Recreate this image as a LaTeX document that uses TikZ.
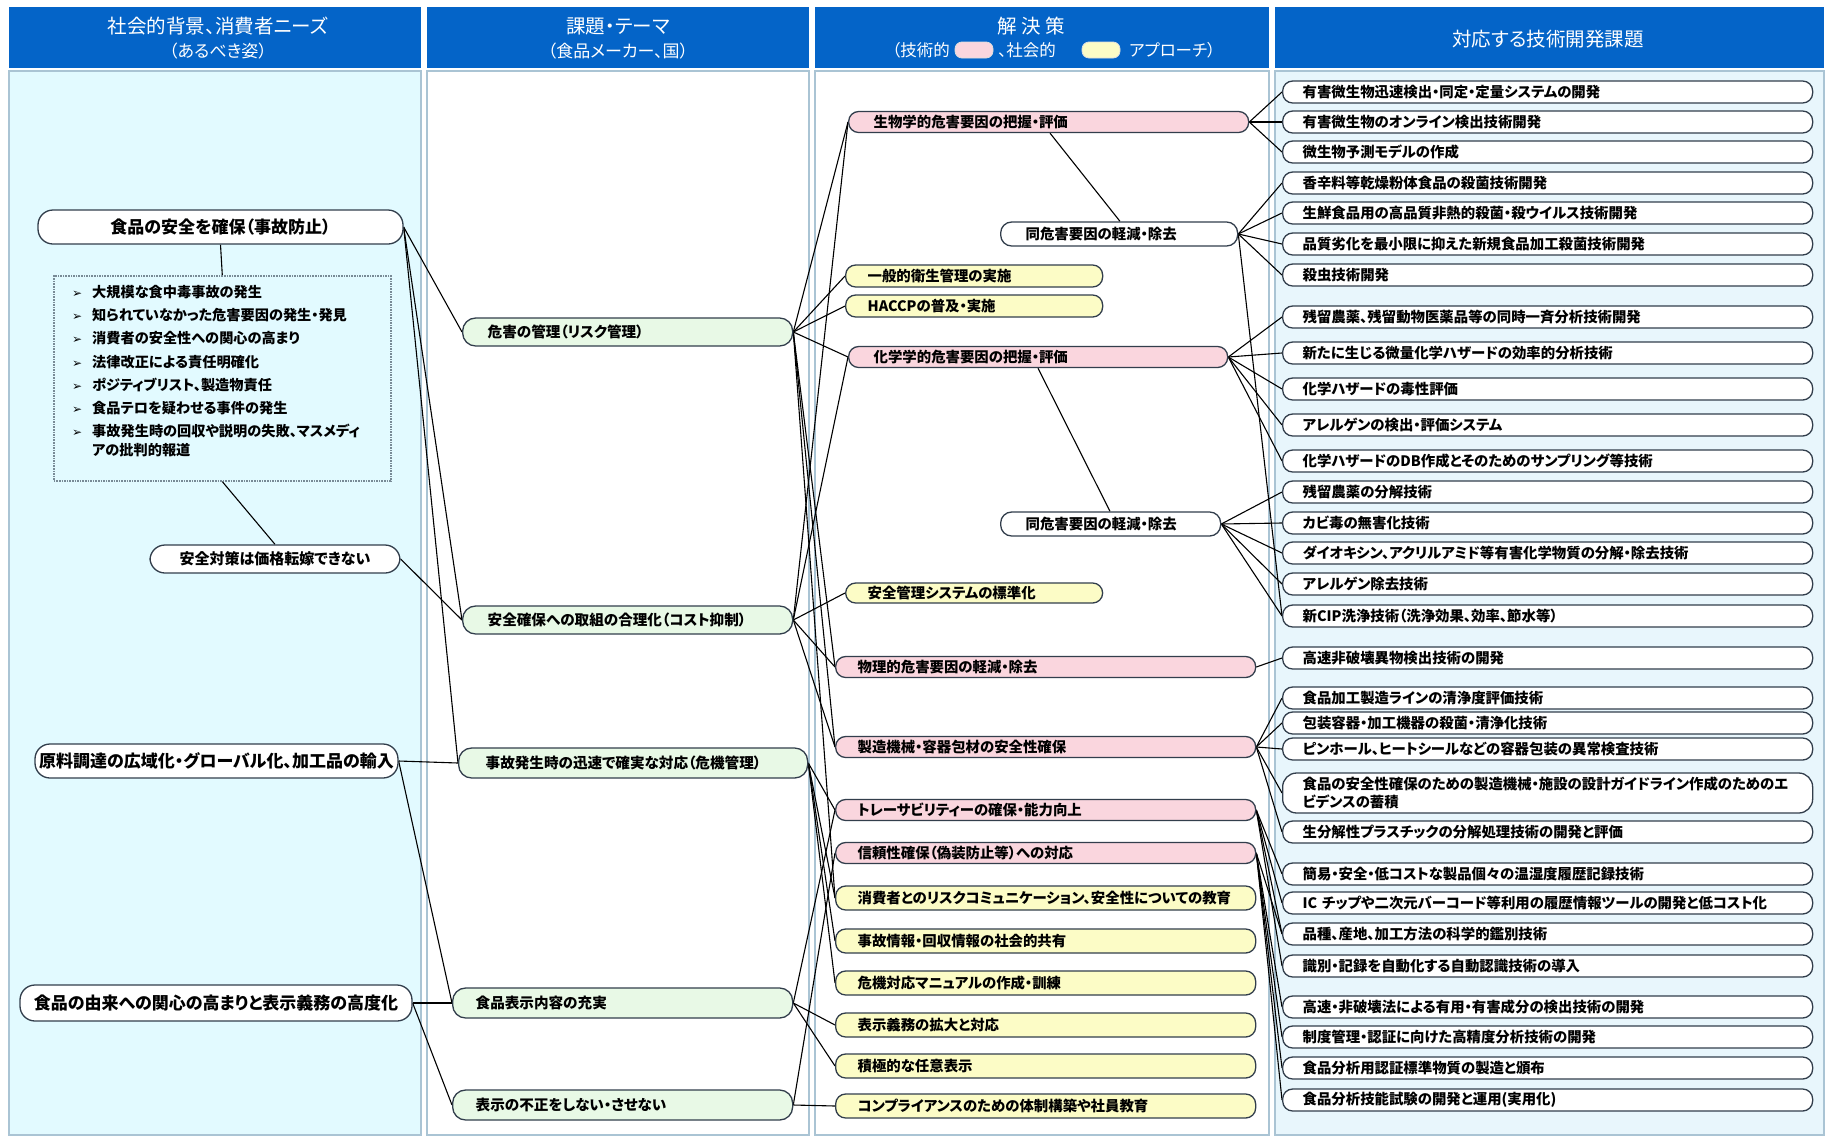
\documentclass[tikz,border=0pt]{standalone}
\usepackage{fontspec}
\setmainfont{Noto Sans CJK JP}[RawFeature={+palt}]
\newfontfamily\dvfont{DejaVu Sans}
\usetikzlibrary{calc}
\pgfdeclarelayer{bg}
\pgfsetlayers{bg,main}

\definecolor{hdr}{RGB}{4,100,200}
\definecolor{cyanbg}{RGB}{226,250,255}
\definecolor{cfourbg}{RGB}{232,246,252}
\definecolor{colrule}{RGB}{170,196,212}
\definecolor{edge}{RGB}{50,62,76}
\definecolor{dotgray}{RGB}{120,138,150}
\definecolor{pk}{RGB}{250,214,222}
\definecolor{yl}{RGB}{252,252,198}
\definecolor{gr}{RGB}{232,249,230}

\tikzset{
  conn/.style={line width=1.1pt, black},
  basebox/.style={draw=edge, line width=1.3pt, inner ysep=1pt, anchor=west, align=left,
    font=\fontsize{14.4}{17}\selectfont\bfseries},
  itembox/.style={basebox, fill=white, rounded corners=10pt, minimum height=22pt,
    inner xsep=20pt, text width=490pt},
  pkbox/.style={basebox, fill=pk, rounded corners=10pt, minimum height=21pt},
  ylbox/.style={basebox, fill=yl, rounded corners=10pt, minimum height=22pt},
  wtbox/.style={basebox, fill=white, rounded corners=11pt, minimum height=24pt},
  grbox/.style={basebox, fill=gr, rounded corners=13pt, minimum height=28pt,
    font=\fontsize{14.6}{17}\selectfont\bfseries},
  sbox/.style={draw=edge, line width=1.3pt, fill=white, rounded corners=15pt, align=center,
    font=\fontsize{17}{20}\selectfont\bfseries},
  tw/.style 2 args={inner xsep=#1pt, text width=#2pt},
  hdrtxt/.style={text=white, font=\fontsize{19.5}{22}\selectfont, inner sep=0pt},
  hdrtwo/.style={text=white, font=\fontsize{17}{20}\selectfont, inner sep=0pt},
  hdrsub/.style={text=white, font=\fontsize{16.5}{19}\selectfont, inner sep=0pt},
  pill/.style={draw=white!75!gray, line width=0.8pt, rounded corners=7pt,
    minimum width=38pt, minimum height=16pt, inner sep=0pt},
}

\begin{document}
\begin{tikzpicture}[x=1pt,y=-1pt]
\useasboundingbox (0,0) rectangle (1831,1138);

% ---------- header band ----------
\fill[hdr] (9,7) rectangle (421,68);
\fill[hdr] (427,7) rectangle (809,68);
\fill[hdr] (815,7) rectangle (1269,68);
\fill[hdr] (1275,7) rectangle (1824,68);

\node[hdrtxt] (h1a) at (218,26) {社会的背景、消費者ニーズ};
\node[hdrtwo] (h1b) at (218,51) {（あるべき姿）};
\node[hdrtxt] (h2a) at (618,26) {課題・テーマ};
\node[hdrtwo] (h2b) at (618,51) {（食品メーカー、国）};
\node[hdrtxt] (h3a) at (1031,26) {解 決 策};
\node[hdrsub, anchor=east] (h3b) at (950,50) {（技術的};
\node[pill, fill=pk] (h3pk) at (974,50) {};
\node[hdrsub, anchor=west] (h3c) at (998,50) {、社会的};
\node[pill, fill=yl] (h3yl) at (1101,50) {};
\node[hdrsub, anchor=west] (h3d) at (1129,50) {アプローチ）};
\node[hdrtxt] (h4a) at (1548,39) {対応する技術開発課題};

% ---------- column 1: background and needs ----------
\node[sbox, minimum width=365pt, minimum height=34pt] (sA) at (220.5,227) {食品の安全を確保（事故防止）};
\node[draw=dotgray, densely dotted, line width=1.6pt, fill=cyanbg, minimum width=337pt,
  minimum height=205pt, anchor=north west, inner sep=0pt] (lst) at (53,275) {};
\node[anchor=north west, inner sep=0pt, align=left, font=\fontsize{14.2}{23.2}\selectfont\bfseries] (lsttxt) at (72,285) {%
  \makebox[20pt][l]{\dvfont\fontsize{12}{12}\selectfont ➢}大規模な食中毒事故の発生\\
  \makebox[20pt][l]{\dvfont\fontsize{12}{12}\selectfont ➢}知られていなかった危害要因の発生・発見\\
  \makebox[20pt][l]{\dvfont\fontsize{12}{12}\selectfont ➢}消費者の安全性への関心の高まり\\
  \makebox[20pt][l]{\dvfont\fontsize{12}{12}\selectfont ➢}法律改正による責任明確化\\
  \makebox[20pt][l]{\dvfont\fontsize{12}{12}\selectfont ➢}ポジティブリスト、製造物責任\\
  \makebox[20pt][l]{\dvfont\fontsize{12}{12}\selectfont ➢}食品テロを疑わせる事件の発生\\
  \makebox[20pt][l]{\dvfont\fontsize{12}{12}\selectfont ➢}事故発生時の回収や説明の失敗、マスメディ\\[-4pt]
  \makebox[20pt][l]{}アの批判的報道};
\node[sbox, minimum width=250pt, minimum height=28pt, font=\fontsize{15}{18}\selectfont\bfseries] (sB) at (275,559) {安全対策は価格転嫁できない};
\node[sbox, minimum width=363pt, minimum height=34pt] (sC) at (216.5,761) {原料調達の広域化・グローバル化、加工品の輸入};
\node[sbox, minimum width=392pt, minimum height=36pt] (sD) at (216,1003) {食品の由来への関心の高まりと表示義務の高度化};

% ---------- column 2: themes ----------
\node[grbox, tw={25}{280}] (tA) at (462,332) {危害の管理（リスク管理）};
\node[grbox, tw={25}{280}] (tB) at (462,620) {安全確保への取組の合理化（コスト抑制）};
\node[grbox, tw={27}{295}, minimum height=30pt] (tC) at (458,763) {事故発生時の迅速で確実な対応（危機管理）};
\node[grbox, tw={23}{294}, minimum height=30pt] (tD) at (452,1003) {食品表示内容の充実};
\node[grbox, tw={23}{294}, minimum height=30pt] (tE) at (452,1105) {表示の不正をしない・させない};

% ---------- column 3: solutions ----------
\node[pkbox, tw={25}{350}] (bio) at (848,122) {生物学的危害要因の把握・評価};
\node[wtbox, tw={25}{187}] (bio2) at (1000,234) {同危害要因の軽減・除去};
\node[ylbox, tw={22}{213}] (gen) at (845,276) {一般的衛生管理の実施};
\node[ylbox, tw={22}{213}] (hac) at (845,306) {HACCPの普及・実施};
\node[pkbox, tw={25}{329}] (chem) at (848,357) {化学学的危害要因の把握・評価};
\node[wtbox, tw={25}{170}] (chem2) at (1000,524) {同危害要因の軽減・除去};
\node[ylbox, tw={22}{213}, minimum height=20pt] (sms) at (845,593) {安全管理システムの標準化};
\node[pkbox, tw={22}{376}] (phy) at (835,667) {物理的危害要因の軽減・除去};
\node[pkbox, tw={22}{376}] (mfg) at (835,747) {製造機械・容器包材の安全性確保};
\node[pkbox, tw={22}{376}] (trc) at (835,810) {トレーサビリティーの確保・能力向上};
\node[pkbox, tw={22}{376}] (rel) at (835,853) {信頼性確保（偽装防止等）への対応};
\node[ylbox, tw={22}{376}, minimum height=24pt] (rc) at (835,898) {消費者とのリスクコミュニケーション、安全性についての教育};
\node[ylbox, tw={22}{376}, minimum height=24pt] (inf) at (835,941) {事故情報・回収情報の社会的共有};
\node[ylbox, tw={22}{376}, minimum height=24pt] (man) at (835,983) {危機対応マニュアルの作成・訓練};
\node[ylbox, tw={22}{376}, minimum height=24pt] (lab) at (835,1025) {表示義務の拡大と対応};
\node[ylbox, tw={22}{376}, minimum height=24pt] (vol) at (835,1066) {積極的な任意表示};
\node[ylbox, tw={22}{376}, minimum height=24pt] (cmp) at (835,1106) {コンプライアンスのための体制構築や社員教育};

% ---------- column 4: technology development topics ----------
\node[itembox] (d1) at (1282,92) {有害微生物迅速検出・同定・定量システムの開発};
\node[itembox] (d2) at (1282,122) {有害微生物のオンライン検出技術開発};
\node[itembox] (d3) at (1282,152) {微生物予測モデルの作成};
\node[itembox] (d4) at (1282,183) {香辛料等乾燥粉体食品の殺菌技術開発};
\node[itembox] (d5) at (1282,213) {生鮮食品用の高品質非熱的殺菌・殺ウイルス技術開発};
\node[itembox] (d6) at (1282,244) {品質劣化を最小限に抑えた新規食品加工殺菌技術開発};
\node[itembox] (d7) at (1282,275) {殺虫技術開発};
\node[itembox] (d8) at (1282,317) {残留農薬、残留動物医薬品等の同時一斉分析技術開発};
\node[itembox] (d9) at (1282,353) {新たに生じる微量化学ハザードの効率的分析技術};
\node[itembox] (d10) at (1282,389) {化学ハザードの毒性評価};
\node[itembox] (d11) at (1282,425) {アレルゲンの検出・評価システム};
\node[itembox] (d12) at (1282,461) {化学ハザードのDB作成とそのためのサンプリング等技術};
\node[itembox] (d13) at (1282,492) {残留農薬の分解技術};
\node[itembox] (d14) at (1282,523) {カビ毒の無害化技術};
\node[itembox] (d15) at (1282,553) {ダイオキシン、アクリルアミド等有害化学物質の分解・除去技術};
\node[itembox] (d16) at (1282,584) {アレルゲン除去技術};
\node[itembox] (d17) at (1282,616) {新CIP洗浄技術（洗浄効果、効率、節水等）};
\node[itembox] (d18) at (1282,658) {高速非破壊異物検出技術の開発};
\node[itembox] (d19) at (1282,698) {食品加工製造ラインの清浄度評価技術};
\node[itembox] (d20) at (1282,723) {包装容器・加工機器の殺菌・清浄化技術};
\node[itembox] (d21) at (1282,749) {ピンホール、ヒートシールなどの容器包装の異常検査技術};
\node[itembox, minimum height=40pt, rounded corners=14pt, font=\fontsize{14.4}{18}\selectfont\bfseries] (d22) at (1282,793)
  {食品の安全性確保のための製造機械・施設の設計ガイドライン作成のためのエ\\ビデンスの蓄積};
\node[itembox] (d23) at (1282,832) {生分解性プラスチックの分解処理技術の開発と評価};
\node[itembox] (d24) at (1282,874) {簡易・安全・低コストな製品個々の温湿度履歴記録技術};
\node[itembox] (d25) at (1282,903) {IC チップや二次元バーコード等利用の履歴情報ツールの開発と低コスト化};
\node[itembox] (d26) at (1282,934) {品種、産地、加工方法の科学的鑑別技術};
\node[itembox] (d27) at (1282,966) {識別・記録を自動化する自動認識技術の導入};
\node[itembox] (d28) at (1282,1007) {高速・非破壊法による有用・有害成分の検出技術の開発};
\node[itembox] (d29) at (1282,1037) {制度管理・認証に向けた高精度分析技術の開発};
\node[itembox] (d30) at (1282,1068) {食品分析用認証標準物質の製造と頒布};
\node[itembox] (d31) at (1282,1100) {食品分析技能試験の開発と運用(実用化)};

% ---------- page, column bodies and connectors, drawn behind the boxes ----------
\begin{pgfonlayer}{bg}
  \fill[white] (0,0) rectangle (1831,1138);
  \filldraw[fill=cyanbg, draw=colrule, line width=1.5pt] (9,71) rectangle (421,1135);
  \filldraw[fill=white, draw=colrule, line width=1.5pt] (427,71) rectangle (809,1135);
  \filldraw[fill=white, draw=colrule, line width=1.5pt] (815,71) rectangle (1269,1135);
  \filldraw[fill=cfourbg, draw=colrule, line width=1.5pt] (1275,71) rectangle (1824,1135);

  % needs -> themes
  \draw[conn] (sA.south) -- (lst.north);
  \draw[conn] (lst.south) -- (sB.north);
  \foreach \t in {tA,tB,tC} \draw[conn] (sA.east) -- (\t.west);
  \draw[conn] (sB.east) -- (tB.west);
  \foreach \t in {tC,tD} \draw[conn] (sC.east) -- (\t.west);
  \foreach \t in {tD,tE} \draw[conn] (sD.east) -- (\t.west);

  % themes -> solutions
  \foreach \s in {bio,gen,hac,chem,phy,mfg,rc} \draw[conn] (tA.east) -- (\s.west);
  \foreach \s in {bio,chem,sms,phy,mfg} \draw[conn] (tB.east) -- (\s.west);
  \foreach \s in {trc,rc,inf,man} \draw[conn] (tC.east) -- (\s.west);
  \foreach \s in {trc,lab,vol} \draw[conn] (tD.east) -- (\s.west);
  \foreach \s in {rel,cmp} \draw[conn] (tE.east) -- (\s.west);

  % solutions -> sub-solutions
  \draw[conn] ($(bio.south west)+(202,0)$) -- ($(bio2.north west)+(120,0)$);
  \draw[conn] ($(chem.south west)+(190,0)$) -- ($(chem2.north west)+(110,0)$);

  % solutions -> technology topics
  \foreach \d in {d1,d2,d3} \draw[conn] (bio.east) -- (\d.west);
  \foreach \d in {d4,d5,d6,d7,d17} \draw[conn] (bio2.east) -- (\d.west);
  \foreach \d in {d8,d9,d10,d11,d12} \draw[conn] (chem.east) -- (\d.west);
  \foreach \d in {d13,d14,d15,d16,d17} \draw[conn] (chem2.east) -- (\d.west);
  \draw[conn] (phy.east) -- (d18.west);
  \foreach \d in {d19,d20,d21,d22,d23} \draw[conn] (mfg.east) -- (\d.west);
  \foreach \d in {d24,d25,d26,d27} \draw[conn] (trc.east) -- (\d.west);
  \foreach \d in {d26,d28,d29,d30,d31} \draw[conn] (rel.east) -- (\d.west);
\end{pgfonlayer}
\end{tikzpicture}
\end{document}
